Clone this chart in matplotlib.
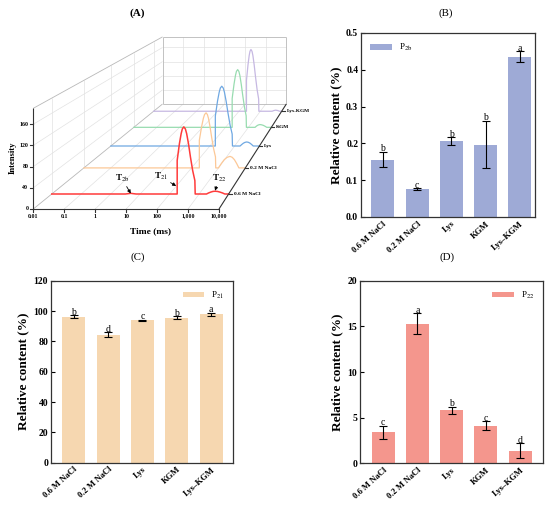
import matplotlib.pyplot as plt
import numpy as np

plt.rcParams['font.family'] = ['Liberation Serif', 'DejaVu Serif']
plt.rcParams['mathtext.fontset'] = 'stix'

groups = ['0.6 M NaCl', '0.2 M NaCl', 'Lys', 'KGM', 'Lys–KGM']
curve_names = ['0.6 M NaCl', '0.2 M NaCl', 'Lys', 'KGM', 'Lys-KGM']
curve_colors = ['#ff3b3b', '#fcc897', '#6fa8e2', '#98dcb0', '#c6b8e2']

# (A) LF-NMR T2 relaxation curves, log10(time / ms) vs intensity
red_lgt = [-2, 0.5, 0.68, 0.86, 2.255, 2.255, 2.331, 2.39, 2.43, 2.48, 2.532, 2.576,
           2.638, 2.705, 2.78, 2.855, 2.866, 3.25, 3.32, 3.40, 3.47, 3.54, 3.62, 3.70,
           3.79, 3.87, 4]
red_int = [0, 0, 1.3, 0, 0, 66.5, 99.8, 119.7, 129, 133, 129, 119.7, 99.8, 73.2, 46.6,
           26.6, 0, 0, 2.1, 3.9, 5.1, 5.5, 5.1, 3.9, 2.1, 0, 0]
orange_lgt = [-2, 2.29, 2.29, 2.375, 2.44, 2.485, 2.54, 2.589, 2.63, 2.687, 2.75, 2.82,
              2.89, 2.90, 3.0, 3.108, 3.215, 3.323, 3.43, 3.513, 3.595, 3.678, 3.76, 4]
orange_int = [0, 0, 59.8, 89.6, 107.6, 115.9, 119.5, 115.9, 107.6, 89.6, 65.7, 41.8,
              23.9, 0, 0, 9.5, 17.8, 23, 25, 23, 17.8, 9.5, 0, 0]
blue_lgt = [-2, 2.22, 2.22, 2.308, 2.376, 2.423, 2.48, 2.539, 2.588, 2.656, 2.732, 2.816,
            2.90, 2.912, 3.22, 3.288, 3.355, 3.423, 3.49, 3.555, 3.62, 3.685, 3.75, 4]
blue_int = [0, 0, 70.5, 105.8, 126.9, 136.8, 141, 136.8, 126.9, 105.8, 77.6, 49.4,
            28.2, 0, 0, 3.6, 6.7, 8.7, 9.5, 8.7, 6.7, 3.6, 0, 0]
green_lgt = [-2, 2.29, 2.29, 2.372, 2.434, 2.477, 2.53, 2.582, 2.625, 2.685, 2.752, 2.826,
             2.90, 2.911, 3.29, 3.34, 3.395, 3.45, 3.50, 3.575, 3.65, 3.725, 3.80, 4]
green_int = [0, 0, 73.5, 110.3, 132.3, 142.6, 147, 142.6, 132.3, 110.3, 80.9, 51.5,
             29.4, 0, 0, 2.7, 5, 6.4, 7, 6.4, 5, 2.7, 0, 0]
purple_lgt = [-2, 2.35, 2.35, 2.421, 2.476, 2.514, 2.56, 2.61, 2.652, 2.711, 2.776, 2.848,
              2.92, 2.931, 3.55, 3.64, 3.72, 3.81, 3.90, 4]
purple_int = [0, 0, 84.5, 126.8, 152.1, 163.9, 169, 163.9, 152.1, 126.8, 93, 59.2,
              33.8, 0, 0, 2, 3, 2, 0, 0]

time_ticks = [-2, -1, 0, 1, 2, 3, 4]
time_labels = ['0.01', '0.1', '1', '10', '100', '1,000', '10,000']
int_ticks = [0, 40, 80, 120, 160]

# (B)-(D) relative content
p2b_mean = [0.156, 0.076, 0.206, 0.197, 0.436]
p2b_err = [0.021, 0.003, 0.011, 0.065, 0.014]
p2b_sig = ['b', 'c', 'b', 'b', 'a']
p21_mean = [96.3, 84.4, 93.8, 95.6, 98.0]
p21_err = [1.0, 1.5, 0.6, 0.8, 1.0]
p21_sig = ['b', 'd', 'c', 'b', 'a']
p22_mean = [3.4, 15.3, 5.8, 4.1, 1.4]
p22_err = [0.73, 1.15, 0.4, 0.5, 0.8]
p22_sig = ['c', 'a', 'b', 'c', 'd']

W, H = 550, 511
fig = plt.figure(figsize=(W / 100, H / 100), dpi=100)

# ---------- panel A: home-made perspective waterfall ----------
axA = fig.add_axes([0, 1 - 250 / H, 290 / W, 250 / H])
axA.set_xlim(0, 290)
axA.set_ylim(250, 0)
axA.axis('off')

VX, VY = 421.0, -106.0          # vanishing point
FX0, FX1 = 33.3, 219.0          # front face, log time -2..4
FY0, FYT = 209.0, 108.3         # front face, intensity 0..190
ZMAX, DMAX = 190.0, 5.0
depths = [0.5, 1.5, 2.5, 3.5, 4.5]


def project(u, z, d):
    u, z, d = np.asarray(u, float), np.asarray(z, float), np.asarray(d, float)
    xf = FX0 + (u + 2) / 6 * (FX1 - FX0)
    yf = FY0 - z / ZMAX * (FY0 - FYT)
    f = 1 / (1 + 0.1 * d)
    return VX + (xf - VX) * f, VY + (yf - VY) * f


def seg(p, q, **kw):
    x, y = project([p[0], q[0]], [p[1], q[1]], [p[2], q[2]])
    axA.plot(x, y, solid_capstyle='butt', **kw)


grid = dict(color='#e2e2e2', lw=0.5, zorder=1)
box = dict(color='#b8b8b8', lw=0.6, zorder=1)
dark = dict(color='#333333', lw=0.8, zorder=5)
for u in time_ticks[1:-1]:
    seg((u, 0, DMAX), (u, ZMAX, DMAX), **grid)
    seg((u, 0, 0), (u, 0, DMAX), **grid)
for z in int_ticks[1:]:
    seg((-2, z, DMAX), (4, z, DMAX), **grid)
    seg((-2, z, 0), (-2, z, DMAX), **grid)
for d in depths:
    seg((-2, 0, d), (-2, ZMAX, d), **grid)
seg((-2, 0, DMAX), (4, 0, DMAX), **box)
seg((-2, ZMAX, DMAX), (4, ZMAX, DMAX), **box)
seg((-2, 0, DMAX), (-2, ZMAX, DMAX), **box)
seg((4, 0, DMAX), (4, ZMAX, DMAX), **box)
seg((-2, ZMAX, 0), (-2, ZMAX, DMAX), **box)
seg((-2, 0, 0), (-2, 0, DMAX), **box)
seg((-2, 0, 0), (4, 0, 0), **dark)
seg((-2, 0, 0), (-2, ZMAX, 0), **dark)
seg((4, 0, 0), (4, 0, DMAX), **dark)

curves = [(red_lgt, red_int), (orange_lgt, orange_int), (blue_lgt, blue_int),
          (green_lgt, green_int), (purple_lgt, purple_int)]
for i in range(4, -1, -1):
    lgt, inten = curves[i]
    x, y = project(lgt, inten, np.full(len(lgt), depths[i]))
    axA.plot(x, y, color=curve_colors[i], lw=1.1 if i == 0 else 0.9,
             solid_joinstyle='round', zorder=3 + 0.1 * (5 - i))

tfont = dict(fontsize=4.2, fontweight='bold')
for u, lab in zip(time_ticks, time_labels):
    x, y = project(u, 0, 0)
    axA.plot([x, x], [y, y + 3], **dark)
    axA.text(x, y + 7, lab, ha='center', va='center', **tfont)
for z in int_ticks:
    x, y = project(-2, z, 0)
    axA.plot([x - 3, x], [y, y], **dark)
    axA.text(x - 5, y, str(z), ha='right', va='center', **tfont)
for d, lab in zip(depths, curve_names):
    x, y = project(4, 0, d)
    axA.plot([x, x + 3], [y, y], **dark)
    axA.text(x + 5, y, lab, ha='left', va='center', fontsize=3.9, fontweight='bold')

axA.text(13, 158, 'Intensity', rotation=90, ha='center', va='center', fontsize=6.2, fontweight='bold')
axA.text(150, 231, 'Time (ms)', ha='center', va='center', fontsize=6.8, fontweight='bold')
axA.text(137.7, 13.5, '(A)', ha='center', va='center', fontsize=8, fontweight='bold')

arrow = dict(arrowstyle='-|>', color='k', lw=0.6, mutation_scale=5, shrinkA=0, shrinkB=0)
for lab, (u, z), off in [('T$_{\\mathrm{2b}}$', (0.68, 1.0), (-6.5, 11)),
                         ('T$_{\\mathrm{21}}$', (2.22, 16), (-11, 6.5)),
                         ('T$_{\\mathrm{22}}$', (3.54, 6.5), (3, 9))]:
    x, y = project(u, z, depths[0])
    axA.annotate(lab, xy=(float(x), float(y)), xytext=off, textcoords='offset points',
                 ha='center', va='center', fontsize=6.5, fontweight='bold', arrowprops=arrow, zorder=6)


# ---------- panels B-D: bar charts ----------
def bar_panel(rect, means, errs, sig, color, label, ylim, yticks, fmt, loc, xlim, title, tpos):
    ax = fig.add_axes(rect)
    x = np.arange(len(groups))
    ax.bar(x, means, width=0.67, color=color, label=label, zorder=2)
    ax.errorbar(x, means, yerr=errs, fmt='none', ecolor='k', elinewidth=0.8,
                capsize=2.6, capthick=0.8, zorder=3)
    for xi, m, e, s in zip(x, means, errs, sig):
        ax.annotate(s, (xi, m + e), xytext=(0, 0.3), textcoords='offset points',
                    ha='center', va='baseline', fontsize=7)
    ax.set_xlim(*xlim)
    ax.set_ylim(*ylim)
    ax.set_yticks(yticks)
    ax.set_yticklabels([fmt.format(v) for v in yticks], fontsize=7, fontweight='bold')
    ax.set_xticks(x)
    ax.set_xticklabels(groups, rotation=42, ha='right', rotation_mode='anchor',
                       fontsize=6.2, fontweight='bold')
    ax.tick_params(direction='in', length=3, width=0.8, pad=2)
    ax.set_ylabel('Relative content (%)', fontsize=9.5, fontweight='bold', labelpad=3)
    for sp in ax.spines.values():
        sp.set_linewidth(0.9)
        sp.set_color('#333333')
    ax.legend(loc=loc, frameon=False, fontsize=6.5, handlelength=2.4, handleheight=0.55,
              borderaxespad=0.6)
    fig.text(tpos[0] / W, 1 - tpos[1] / H, title, ha='center', va='center', fontsize=7.8)
    return ax


bar_panel([361 / W, 1 - 217 / H, 174 / W, 184 / H], p2b_mean, p2b_err, p2b_sig, '#9eaad6',
          'P$_{\\mathrm{2b}}$', (0, 0.5), [0, 0.1, 0.2, 0.3, 0.4, 0.5], '{:.1f}', 'upper left',
          (-0.64, 4.44), '(B)', (446, 13))
bar_panel([51 / W, 1 - 462.7 / H, 182.3 / W, 182 / H], p21_mean, p21_err, p21_sig, '#f6d7b0',
          'P$_{\\mathrm{21}}$', (0, 120), [0, 20, 40, 60, 80, 100, 120], '{:.0f}', 'upper right',
          (-0.67, 4.65), '(C)', (137.7, 257))
bar_panel([360 / W, 1 - 463.3 / H, 183.3 / W, 182.6 / H], p22_mean, p22_err, p22_sig, '#f4968d',
          'P$_{\\mathrm{22}}$', (0, 20), [0, 5, 10, 15, 20], '{:.0f}', 'upper right',
          (-0.68, 4.68), '(D)', (446.7, 257))

fig.savefig('out.png', dpi=100)
